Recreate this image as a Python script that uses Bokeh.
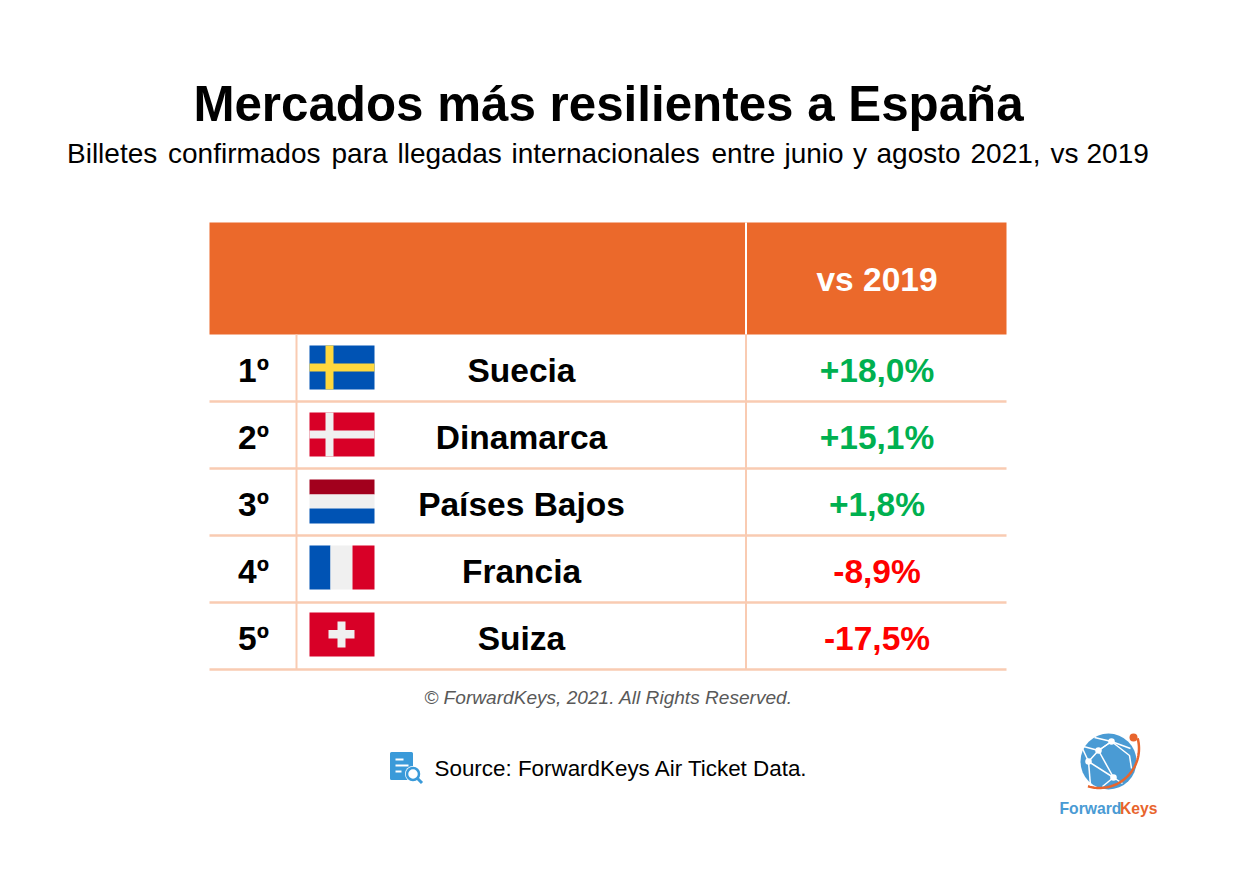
from bokeh.plotting import figure
from bokeh.models import Range1d
from bokeh.core.properties import value
from bokeh.embed import file_html
from bokeh.resources import INLINE
import numpy as np

title = "Mercados más resilientes a España"
subtitle = "Billetes confirmados para llegadas internacionales entre junio y agosto 2021, vs 2019"
column_label = "vs 2019"
ranks = ["1º", "2º", "3º", "4º", "5º"]
countries = ["Suecia", "Dinamarca", "Países Bajos", "Francia", "Suiza"]
values_pct = [18.0, 15.1, 1.8, -8.9, -17.5]
copyright_text = "© ForwardKeys, 2021. All Rights Reserved."
source_text = "Source: ForwardKeys Air Ticket Data."

ORANGE = "#EB692B"; LINE = "#F9CBB2"; GREEN = "#00B050"; RED = "#FF0000"
BLUE = "#0053B4"; YEL = "#FFD83D"; CRIM = "#D80027"; WH = "#F0F0F0"; DRED = "#A2001D"
FONT = value("Liberation Sans")

p = figure(width=1218, height=870, output_backend="svg", toolbar_location=None,
           x_range=Range1d(0, 1218), y_range=Range1d(870, 0), min_border=0,
           background_fill_color="white", outline_line_color=None)
p.axis.visible = False
p.grid.visible = False

def txt(x, y, t, size, color="black", style="normal", align="center", font=FONT):
    p.text([x], [y], text=[t], text_font=font, text_font_size=f"{size}px", text_color=color,
           text_font_style=style, text_align=align, text_baseline="middle")

def rect(x0, x1, y0, y1, color):
    p.quad(left=[x0], right=[x1], top=[y0], bottom=[y1], fill_color=color, line_color=None)

L, M1, M2, R = 209, 296, 745.5, 1006
HT, HB = 222, 334
ROW = 67

txt(608, 103, title, 49.3, style="bold")
word_x = [66.5, 167.5, 331, 397, 511, 711, 784, 852.5, 876, 970, 1050, 1086]
for wx, w in zip(word_x, subtitle.split(" ")):
    txt(wx, 153, w, 28, align="left")

rect(L, R, HT, HB, ORANGE)
txt(876.5, 279, column_label, 33.5, color="white", style="bold")
p.segment([M2], [HT], [M2], [HB], line_color="white", line_width=2)

rows = np.arange(len(ranks))
bottoms = HB + ROW * (rows + 1)
centers = bottoms - ROW / 2
p.segment([L] * 5, bottoms, [R] * 5, bottoms, line_color=LINE, line_width=2.5)
last = bottoms[-1]
p.segment([M1, M2], [HB, HB], [M1, M2], [last, last], line_color=LINE, line_width=2)

for i in rows:
    c = centers[i] + 2.5
    txt(253, c, ranks[i], 33.5, style="bold")
    txt(521, c, countries[i], 33.5, style="bold")
    v = values_pct[i]
    label = f"{v:+.1f}%".replace(".", ",")
    txt(876.5, c, label, 33.5, color=GREEN if v > 0 else RED, style="bold")

FX0, FX1, FH = 309, 374, 44
flag_tops = [345, 412, 479, 545, 612]
t = flag_tops[0]
rect(FX0, FX1, t, t + FH, BLUE); rect(FX0 + 16, FX0 + 24, t, t + FH, YEL); rect(FX0, FX1, t + 18, t + 26, YEL)
t = flag_tops[1]
rect(FX0, FX1, t, t + FH, CRIM); rect(FX0 + 16, FX0 + 24, t, t + FH, WH); rect(FX0, FX1, t + 18, t + 26, WH)
t = flag_tops[2]
rect(FX0, FX1, t, t + 15, DRED); rect(FX0, FX1, t + 15, t + 29, WH); rect(FX0, FX1, t + 29, t + FH, BLUE)
t = flag_tops[3]
rect(FX0, FX0 + 21, t, t + FH, BLUE); rect(FX0 + 21, FX0 + 43, t, t + FH, WH); rect(FX0 + 43, FX1, t, t + FH, CRIM)
t = flag_tops[4]
rect(FX0, FX1, t, t + FH, CRIM)
rect(FX0 + 19, FX0 + 45, t + 17.5, t + 26, WH); rect(FX0 + 28, FX0 + 36, t + 9, t + 35, WH)

txt(608, 697, copyright_text, 19.1, color="#595959", style="italic")
txt(434, 768, source_text, 22.4, align="left")

# source icon
IC = "#3A9AD9"
p.quad(left=[391], right=[411], top=[753], bottom=[778], fill_color=IC, line_color=IC, line_width=3, line_join="round")
p.segment([395, 395, 395], [759, 765, 771], [403, 408, 401], [759, 765, 771], line_color="white", line_width=2)
p.scatter([412.5], [773.5], size=16, marker="circle", fill_color="white", line_color=None)
p.scatter([412.5], [773.5], size=12, marker="circle", fill_color="white", line_color=IC, line_width=2.5)
p.segment([417], [778], [421.5], [782.5], line_color=IC, line_width=3)

# logo
GB = "#4A9BD4"; LO = "#E8652D"
p.scatter([1108], [761], size=56, marker="circle", fill_color=GB, line_color=None)
xs = [[1083, 1098, 1111, 1130], [1094, 1111], [1111, 1098, 1088, 1113, 1122], [1098, 1113], [1111, 1129, 1131], [1088, 1082], [1088, 1090], [1113, 1102]]
ys = [[746, 750, 741, 748], [737, 741], [741, 750, 761, 777, 783], [750, 777], [741, 755, 768], [761, 748], [761, 785], [777, 786]]
p.multi_line(xs, ys, line_color="white", line_width=1.5)
p.scatter([1111, 1098, 1088, 1113], [741, 750, 761, 777], size=6.5, marker="circle", fill_color="white", line_color=None)
ang = np.radians(np.linspace(-15, 107, 40))
p.line(1099 + 39.5 * np.cos(ang), 748 + 39.5 * np.sin(ang), line_color=LO, line_width=2.5)
p.scatter([1133], [737], size=8, marker="circle", fill_color=LO, line_color=None)
txt(1059, 808, "Forward", 15.7, color=GB, style="bold", align="left")
txt(1157, 808, "Keys", 15.7, color=LO, style="bold", align="right")

open("out.html", "w").write(file_html(p, INLINE))
